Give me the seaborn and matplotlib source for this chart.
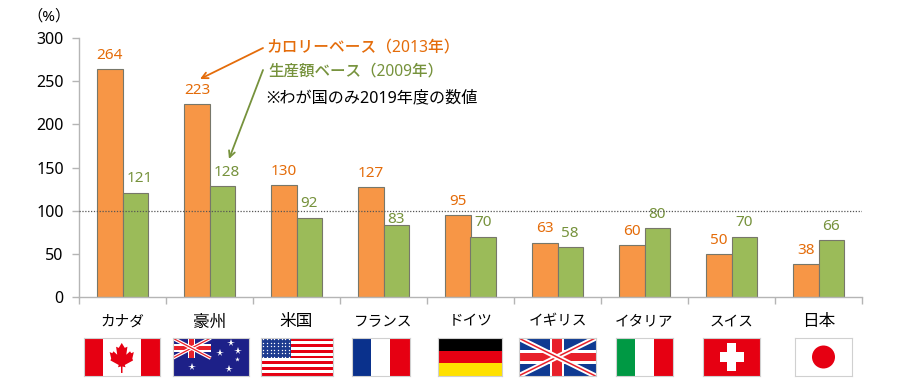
import numpy as np
import pandas as pd
import matplotlib.pyplot as plt
from matplotlib.patches import Rectangle, Ellipse, Polygon
import seaborn as sns

# Data
countries = ['カナダ', '豪州', '米国', 'フランス', 'ドイツ', 'イギリス', 'イタリア', 'スイス', '日本']
calorie = [264, 223, 130, 127, 95, 63, 60, 50, 38]
production = [121, 128, 92, 83, 70, 58, 80, 70, 66]
yticks = [0, 50, 100, 150, 200, 250, 300]

ORANGE = '#F79646'
GREEN = '#9BBB59'
ORANGE_TXT = '#E46C0A'
GREEN_TXT = '#76923C'
RED = '#E60012'
UK_RED = '#E8202A'

df = pd.DataFrame({
    'country': countries * 2,
    'value': calorie + production,
    'base': ['calorie'] * 9 + ['production'] * 9,
})

sns.set_theme(style='white')
plt.rcParams['font.family'] = ['Noto Sans', 'Noto Sans CJK JP', 'DejaVu Sans']

W, H = 900, 390
fig = plt.figure(figsize=(W / 100, H / 100), dpi=100)
ax = fig.add_axes([79 / W, 1 - 297 / H, 783 / W, 259 / H])

sns.barplot(data=df, x='country', y='value', hue='base', order=countries,
            palette=[ORANGE, GREEN], width=0.58, gap=0, saturation=1,
            edgecolor='#77776a', linewidth=0.8, legend=False, ax=ax)

ax.set_xlim(-0.5, 8.5)
ax.set_ylim(0, 300)
ax.set_xlabel('')
ax.set_ylabel('')
ax.set_yticks(yticks)
ax.tick_params(axis='y', labelsize=11.5, length=5, width=1, color='#b5b5b5',
               labelcolor='black', pad=6, left=True)
# ticks sit between the countries, names sit in the middle
ax.set_xticks(np.arange(-0.5, 9), labels=[''] * 10)
ax.set_xticks(np.arange(9), labels=countries, minor=True)
ax.tick_params(axis='x', which='major', length=5, width=1, color='#b5b5b5', bottom=True)
ax.tick_params(axis='x', which='minor', length=0, labelsize=10.5, labelcolor='black', pad=12.5)
# kanji names are wider in the reference than the kana ones
for lab in ax.get_xticklabels(minor=True):
    if lab.get_text() in ['豪州', '米国', '日本']:
        lab.set_fontsize(12)
sns.despine(ax=ax)
for side in ['left', 'bottom']:
    ax.spines[side].set_color('#b5b5b5')
    ax.spines[side].set_linewidth(1)

ax.axhline(100, color='#555555', lw=0.9, ls=(0, (1, 1.3)), zorder=5)

# Value labels
orange_labels = ax.bar_label(ax.containers[0], padding=4.5, color=ORANGE_TXT, fontsize=11)
green_labels = ax.bar_label(ax.containers[1], padding=4.5, color=GREEN_TXT, fontsize=11)
green_labels[0].xyann = (3, 4.5)
green_labels[1].xyann = (3, 4.5)
green_labels[3].xyann = (0, -1)


def fx(x):
    return x / W


def fy(y):
    return 1 - y / H


# Notes and arrows
fig.text(fx(266), fy(47), 'カロリーベース（2013年）', color=ORANGE_TXT, fontsize=11.3,
         fontweight='medium', va='center')
fig.text(fx(268), fy(71), '生産額ベース（2009年）', color=GREEN_TXT, fontsize=11.2,
         fontweight='medium', va='center')
fig.text(fx(266), fy(98), '※わが国のみ2019年度の数値', color='black', fontsize=11.6, va='center')
fig.text(fx(27), fy(17), '（%）', color='black', fontsize=11, va='center')

for start, end, col in [((263, 48), (200, 79), ORANGE_TXT), ((263, 70), (229, 159), GREEN_TXT)]:
    ax.annotate('', xy=(fx(end[0]), fy(end[1])), xytext=(fx(start[0]), fy(start[1])),
                xycoords='figure fraction', textcoords='figure fraction',
                arrowprops=dict(arrowstyle='->', color=col, lw=1.3, mutation_scale=11,
                                shrinkA=0, shrinkB=0))


# Flags
def flag_axes(x0, x1, y0=338, y1=376, edge='#d0d0d0'):
    a = fig.add_axes([x0 / W, 1 - y1 / H, (x1 - x0) / W, (y1 - y0) / H])
    a.set_xlim(0, 1)
    a.set_ylim(0, 1)
    a.set_xticks([])
    a.set_yticks([])
    for s in a.spines.values():
        s.set_color(edge)
        s.set_linewidth(0.8)
    return a


def band(a, x, w, col):
    a.add_patch(Rectangle((x, 0), w, 1, color=col, lw=0))


def union_jack(a, x0, x1, y0, y1, blue, lw_white, lw_red):
    a.add_patch(Rectangle((x0, y0), x1 - x0, y1 - y0, color=blue, lw=0))
    for ys in [(y0, y1), (y1, y0)]:
        a.plot([x0, x1], ys, color='white', lw=lw_white, solid_capstyle='butt')
        a.plot([x0, x1], ys, color=UK_RED, lw=lw_red, solid_capstyle='butt')
    cx, cy = (x0 + x1) / 2, (y0 + y1) / 2
    w, h = x1 - x0, y1 - y0
    a.add_patch(Rectangle((cx - 0.095 * w, y0), 0.19 * w, h, color='white', lw=0))
    a.add_patch(Rectangle((x0, cy - 0.18 * h), w, 0.36 * h, color='white', lw=0))
    a.add_patch(Rectangle((cx - 0.06 * w, y0), 0.12 * w, h, color=UK_RED, lw=0))
    a.add_patch(Rectangle((x0, cy - 0.11 * h), w, 0.22 * h, color=UK_RED, lw=0))


# Canada
a = flag_axes(84, 159.5)
band(a, 0, 0.25, RED)
band(a, 0.75, 0.25, RED)
leaf = [(0.5, 0.87), (0.46, 0.74), (0.425, 0.77), (0.44, 0.56), (0.39, 0.65), (0.375, 0.6), (0.34, 0.63),
        (0.36, 0.46), (0.35, 0.41), (0.46, 0.29), (0.45, 0.23), (0.49, 0.25), (0.49, 0.08), (0.51, 0.08),
        (0.51, 0.25), (0.55, 0.23), (0.54, 0.29), (0.65, 0.41), (0.64, 0.46), (0.66, 0.63), (0.625, 0.6),
        (0.61, 0.65), (0.56, 0.56), (0.575, 0.77), (0.54, 0.74)]
a.add_patch(Polygon(leaf, color=RED, lw=0))

# Australia
a = flag_axes(172.5, 249)
a.set_facecolor('#1D2088')
union_jack(a, 0, 0.5, 0.47, 1, '#1D2088', 2.6, 0.9)
a.plot([0.62, 0.86, 0.74, 0.26, 0.76], [0.6, 0.67, 0.18, 0.25, 0.87], ls='',
       marker='*', color='white', ms=5.5, mew=0)
a.plot([0.84], [0.44], ls='', marker='*', color='white', ms=3.5, mew=0)

# USA
a = flag_axes(261, 333)
for i in range(13):
    a.add_patch(Rectangle((0, 1 - (i + 1) / 13), 1, 1 / 13, color=RED if i % 2 == 0 else 'white', lw=0))
a.add_patch(Rectangle((0, 6 / 13), 0.42, 7 / 13, color='#1D3B8F', lw=0))
sx, sy = np.meshgrid(np.linspace(0.03, 0.39, 8), np.linspace(0.5, 0.97, 6))
a.plot(sx.ravel(), sy.ravel(), ls='', marker='.', color='white', ms=2, mew=0)

# France
a = flag_axes(352, 409.5)
band(a, 0, 0.335, '#0A318C')
band(a, 0.665, 0.335, RED)

# Germany
a = flag_axes(438, 502)
a.add_patch(Rectangle((0, 2 / 3), 1, 1 / 3, color='black', lw=0))
a.add_patch(Rectangle((0, 1 / 3), 1, 1 / 3, color=RED, lw=0))
a.add_patch(Rectangle((0, 0), 1, 1 / 3, color='#FFE100', lw=0))

# UK
a = flag_axes(518.5, 595.5)
union_jack(a, 0, 1, 0, 1, '#0F3A92', 3.8, 1.1)

# Italy
a = flag_axes(616, 672.5)
band(a, 0, 0.335, '#009944')
band(a, 0.665, 0.335, RED)

# Switzerland
a = flag_axes(703, 760)
a.set_facecolor(RED)
a.add_patch(Rectangle((0.29, 0.37), 0.43, 0.26, color='white', lw=0))
a.add_patch(Rectangle((0.415, 0.13), 0.17, 0.74, color='white', lw=0))

# Japan
a = flag_axes(795, 852)
a.add_patch(Ellipse((0.5, 0.5), 23 / 57, 23 / 38, color=RED, lw=0))

plt.savefig('out.png', dpi=100)
